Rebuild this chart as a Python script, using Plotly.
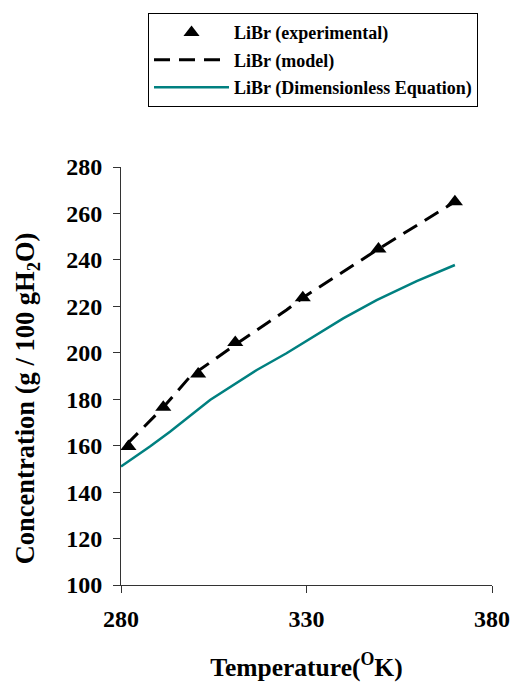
import plotly.graph_objects as go

# Experimental data
exp_T = [282, 291.4, 300.8, 310.8, 329, 349.4, 370]
exp_C = [159.6, 176.5, 190.9, 204.4, 223.7, 244.7, 265]

# Model
mod_T = [281.5, 291.4, 298.6, 310.8, 324.6, 329, 349.4, 370]
mod_C = [160.5, 176.5, 189.7, 203.5, 218.4, 223.7, 244.7, 265]

# Dimensionless equation
dim_T = [280, 287.8, 293.2, 304, 316.6, 324.6, 339.9, 348.9, 359.7, 370]
dim_C = [151, 159.6, 166, 179.7, 192.6, 199.8, 214.8, 222.7, 230.9, 237.8]

x_ticks = [280, 330, 380]
y_ticks = [100, 120, 140, 160, 180, 200, 220, 240, 260, 280]

FONT = "Liberation Serif"

fig = go.Figure()
fig.add_trace(go.Scatter(
    x=exp_T, y=exp_C, mode="markers", name="LiBr (experimental)",
    marker=dict(symbol="triangle-up", size=14, color="black"),
    legendgroup="a"))
fig.add_trace(go.Scatter(
    x=mod_T, y=mod_C, mode="lines", name="LiBr (model)",
    line=dict(color="black", width=3, dash="16px,9px"),
    legendgroup="b"))
fig.add_trace(go.Scatter(
    x=dim_T, y=dim_C, mode="lines", name="LiBr (Dimensionless Equation)",
    line=dict(color="#008080", width=2.5),
    legendgroup="c"))

axis_common = dict(
    showgrid=False, zeroline=False, showline=True, linecolor="#333",
    linewidth=1, ticks="outside", tickcolor="#333", ticklen=7,
    tickfont=dict(family=FONT, size=24, color="black", weight="bold"),
)

fig.update_xaxes(range=[280, 380], tickvals=x_ticks, ticklabelstandoff=5,
                 title=dict(text="Temperature(<sup>O</sup>K)", standoff=27,
                            font=dict(family=FONT, size=25.5, color="black", weight="bold")),
                 **axis_common)
fig.update_yaxes(range=[100, 280], tickvals=y_ticks, ticklabelstandoff=6,
                 **axis_common)

fig.add_annotation(
    text="Concentration (g / 100 gH<sub>2</sub>O)", textangle=-90,
    xref="paper", yref="paper", x=-0.253, y=0.447,
    xanchor="center", yanchor="middle", showarrow=False,
    font=dict(family=FONT, size=26.5, color="black", weight="bold"))

fig.update_layout(
    width=512, height=682,
    margin=dict(l=121, r=20, t=167, b=97, autoexpand=False),
    paper_bgcolor="white", plot_bgcolor="white",
    font=dict(family=FONT, color="black"),
    legend=dict(
        x=0.0728, y=1.368, xanchor="left", yanchor="top",
        bgcolor="white", bordercolor="black", borderwidth=1,
        font=dict(family=FONT, size=18, color="black", weight="bold"),
        traceorder="grouped", tracegroupgap=1, itemwidth=75,
    ),
)

fig.write_html(
    "out.html",
    config={"displayModeBar": False},
    post_script="document.body.style.margin='0';document.body.style.overflow='hidden';",
)
